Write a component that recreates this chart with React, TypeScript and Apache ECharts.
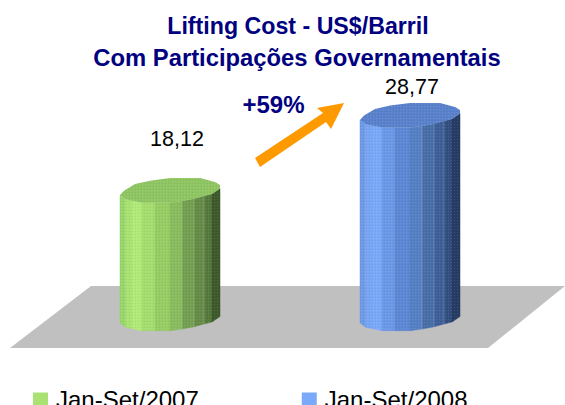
import React, { useEffect, useRef } from "react";
import * as echarts from "echarts";

const categories = ["Jan-Set/2007", "Jan-Set/2008"];
const values = [18.12, 28.77];
const titleLines = ["Lifting Cost - US$/Barril", "Com Participações Governamentais"];
const changeLabel = "+59%";

const greenFacets = ["#98D66A", "#A9E273", "#B2EA7A", "#A5DD6F", "#97CD65", "#89BC5D", "#72A050", "#648C46", "#557A3C", "#3E5A2C"];
const blueFacets = ["#6E9AE8", "#78A5F2", "#79A9F8", "#6C98E8", "#5E88D4", "#5580C4", "#486EA8", "#3E5F98", "#334F80", "#273C62"];
const topColors = ["#8FC562", "#5A82CC"];
const legendColors = ["#A9E273", "#79A9F8"];

// prism geometry, px relative to the left end of the front outline
const BAR_W = 100;
const facetX = [0, 5.7, 12, 22, 35, 50, 62, 74, 84, 92, 100];
const facetD = [0, 4.3, 5.6, 7.7, 7.7, 7.7, 6, 3.8, 1, -1, -6.5];
const topBack = [[100, -10], [95, -13], [80, -17], [50, -17], [30, -14.3], [15, -11], [4, -4.3]];
const labelOffset = [[7, -39], [2, -16]];

function makeDots() {
  const c = document.createElement("canvas");
  c.width = 3; c.height = 3;
  const g = c.getContext("2d")!;
  g.fillStyle = "rgba(255,255,255,0.10)";
  g.fillRect(1, 1, 1, 1);
  g.fillStyle = "rgba(0,0,0,0.07)";
  g.fillRect(0, 0, 1, 1);
  return c;
}

export default function App() {
  const ref = useRef<HTMLDivElement>(null);
  useEffect(() => {
    document.body.style.margin = "0";
    const chart = echarts.init(ref.current!, undefined, { renderer: "svg" });
    const dots = { image: makeDots(), repeat: "repeat" };

    const renderPrism = (idx: number, palette: string[]) => (_p: any, api: any) => {
      const [cx, yTop] = api.coord([idx, api.value(1)]);
      const [, yBase] = api.coord([idx, 0]);
      const x0 = cx - BAR_W / 2;
      const children: any[] = [];
      for (let i = 0; i < palette.length; i++) {
        const pts = [
          [x0 + facetX[i], yTop + facetD[i]],
          [x0 + facetX[i + 1], yTop + facetD[i + 1]],
          [x0 + facetX[i + 1], yBase + facetD[i + 1]],
          [x0 + facetX[i], yBase + facetD[i]],
        ];
        children.push({ type: "polygon", shape: { points: pts }, style: { fill: palette[i], stroke: palette[i], lineWidth: 0.5 } });
        children.push({ type: "polygon", shape: { points: pts }, style: { fill: dots as any } });
        if (i >= 6 && i <= 8) {
          children.push({
            type: "line",
            shape: { x1: x0 + facetX[i], y1: yTop + facetD[i], x2: x0 + facetX[i], y2: yBase + facetD[i] },
            style: { stroke: "rgba(255,255,255,0.22)", lineWidth: 1 },
          });
        }
      }
      const front = facetX.map((x, i) => [x0 + x, yTop + facetD[i]]);
      const back = topBack.map(([x, d]) => [x0 + x, yTop + d]);
      const top = front.concat(back);
      children.push({ type: "polygon", shape: { points: top }, style: { fill: topColors[idx] } });
      children.push({ type: "polygon", shape: { points: top }, style: { fill: dots as any } });
      children.push({
        type: "text",
        style: {
          x: cx + labelOffset[idx][0],
          y: yTop + labelOffset[idx][1] - 17,
          text: values[idx].toFixed(2).replace(".", ","),
          fill: "#000",
          font: '21.5px "Liberation Sans"',
          align: "center",
          verticalAlign: "middle",
        },
      });
      return { type: "group", children };
    };

    chart.setOption({
      animation: false,
      title: [
        {
          text: titleLines[0],
          left: 298,
          top: 14,
          padding: 0,
          textAlign: "center",
          textStyle: { fontFamily: "Liberation Sans", fontWeight: "bold", fontSize: 23.2, lineHeight: 24, color: "#000080" },
        },
        {
          text: titleLines[1],
          left: 297,
          top: 45,
          padding: 0,
          textAlign: "center",
          textStyle: { fontFamily: "Liberation Sans", fontWeight: "bold", fontSize: 23.8, lineHeight: 24, color: "#000080" },
        },
      ],
      grid: { left: 50, width: 480, top: 40.6, height: 282.4 },
      xAxis: { type: "category", data: categories, show: false },
      yAxis: { type: "value", min: 0, max: 40, show: false },
      legend: {
        data: categories,
        left: 33,
        top: 387,
        padding: 0,
        itemWidth: 15,
        itemHeight: 13,
        itemGap: 103,
        icon: "rect",
        textStyle: { fontFamily: "Liberation Sans", fontSize: 24, lineHeight: 13, color: "#000", padding: [0, 0, 5, 3] },
      },
      series: categories.map((name, i) => ({
        type: "custom",
        name,
        clip: false,
        silent: true,
        itemStyle: { color: legendColors[i] },
        encode: { x: 0, y: 1 },
        data: [[i, values[i]]],
        renderItem: renderPrism(i, i === 0 ? greenFacets : blueFacets),
      })),
      graphic: [
        {
          type: "polygon",
          z: 0,
          silent: true,
          shape: { points: [[91, 286], [565, 286], [488, 348], [10, 348]] },
          style: { fill: "#C0C0C0" },
        },
        {
          type: "polygon",
          z: 10,
          silent: true,
          shape: { points: [[255, 158], [323, 113], [317, 108], [344, 103], [331, 129], [326, 122], [260, 167]] },
          style: { fill: "#FF9900" },
        },
        {
          type: "text",
          z: 10,
          silent: true,
          style: { x: 273.5, y: 104, text: changeLabel, fill: "#000080", font: 'bold 24px "Liberation Sans"', align: "center", verticalAlign: "middle" },
        },
      ],
    });
    return () => chart.dispose();
  }, []);
  return <div ref={ref} style={{ width: 565, height: 405 }} />;
}
